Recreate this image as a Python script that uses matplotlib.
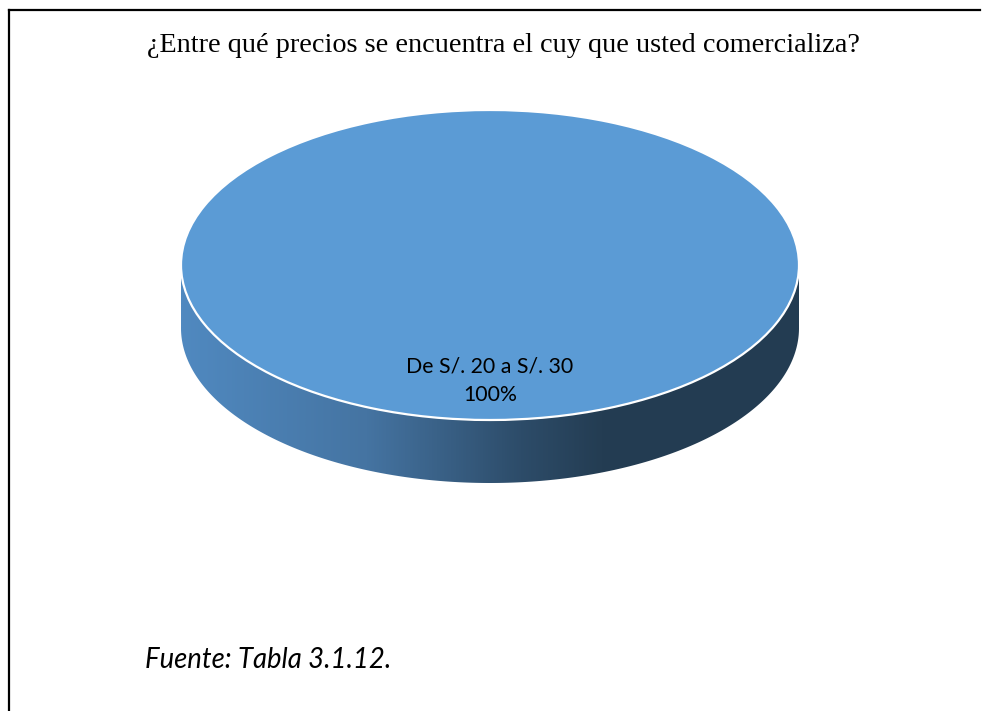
import numpy as np
import matplotlib
matplotlib.use("Agg")
import matplotlib.pyplot as plt
from matplotlib.colors import LinearSegmentedColormap
from matplotlib.patches import Polygon
from matplotlib.lines import Line2D

# ---- data ----
categories = ["De S/. 20 a S/. 30"]
values = [100]
title = "¿Entre qué precios se encuentra el cuy que usted comercializa?"
source = "Fuente: Tabla 3.1.12."

W, H = 985, 711
fig = plt.figure(figsize=(W / 100, H / 100), dpi=100)

# axes mapping: unit circle -> ellipse centred at (490, 265) px with a=309, b=155
cx, cy, a, b = 490, 265, 309, 155
ax = fig.add_axes([0, 0, 1, 1])
ax.axis("off")

top_color = "#5B9BD5"
depth = 63 / b

# side of the 3D pie (front half) derived from wedge angles
total = sum(values)
theta = np.linspace(np.pi, 2 * np.pi, 400)
top_arc = np.column_stack([np.cos(theta), np.sin(theta)])
bot_arc = np.column_stack([np.cos(theta[::-1]), np.sin(theta[::-1]) - depth])
side = Polygon(np.vstack([top_arc, bot_arc]), closed=True, facecolor="none",
               edgecolor="none", zorder=1)
ax.add_patch(side)

cmap = LinearSegmentedColormap.from_list(
    "side",
    [(0.0, "#5089C0"), (0.30, "#4574A2"), (0.55, "#2D4C69"),
     (0.68, "#243D53"), (1.0, "#233C52")])
grad = np.linspace(0, 1, 512).reshape(1, -1)
im = ax.imshow(grad, cmap=cmap, extent=[-1, 1, -1 - depth, 0],
               aspect="auto", zorder=1, interpolation="bilinear")
im.set_clip_path(side)

# top of the pie
wedges, _ = ax.pie(values, radius=1, center=(0, 0), startangle=90,
                   colors=[top_color],
                   wedgeprops=dict(edgecolor="white", linewidth=1.6))
for w in wedges:
    w.set_zorder(2)

ax.set_aspect("auto")
ax.set_xlim(-cx / a, (W - cx) / a)
ax.set_ylim(-(H - cy) / b, cy / b)

# label
pct = values[0] / total * 100
ax.text(0, -0.745, f"{categories[0]}\n{pct:.0f}%", ha="center", va="center",
        fontsize=15.3, family="Lato", color="black", linespacing=1.55, zorder=3)

# title and source
fig.text(503 / W, 1 - 45 / H, title, ha="center", va="center",
         fontsize=20.3, family="Liberation Serif")
fig.text(145 / W, 1 - 660 / H, source, ha="left", va="center",
         fontsize=19.8, family="Lato", style="italic")

# frame (top and left)
fig.add_artist(Line2D([9 / W, 980 / W], [1 - 10 / H, 1 - 10 / H],
                      transform=fig.transFigure, color="black", lw=1.6))
fig.add_artist(Line2D([9 / W, 9 / W], [1 - 10 / H, 0],
                      transform=fig.transFigure, color="black", lw=1.6))

fig.savefig("out.png", dpi=100)
